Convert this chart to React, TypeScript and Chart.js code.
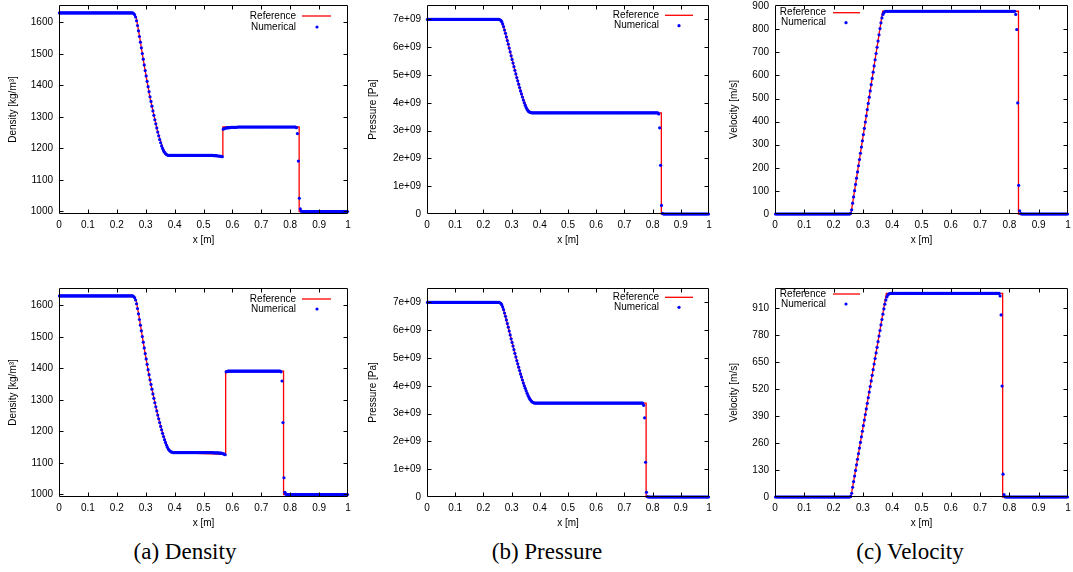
import React, { useEffect, useRef } from 'react';
import { Chart, registerables } from 'chart.js';

Chart.register(...registerables);

// ---------- ticks ----------
const xTicks = [0, 0.1, 0.2, 0.3, 0.4, 0.5, 0.6, 0.7, 0.8, 0.9, 1];
const densityTicks = [1000, 1100, 1200, 1300, 1400, 1500, 1600];
const pressureTicksGPa = [0, 1, 2, 3, 4, 5, 6, 7];
const velocityTopTicks = [0, 100, 200, 300, 400, 500, 600, 700, 800, 900];
const velocityBottomTicks = [0, 130, 260, 390, 520, 650, 780, 910];

// ---------- numerical solution: 300 cells on [0, 1] ----------
const cellCount = 300;
const cellCentres = Array.from({ length: cellCount }, (_, i) => (i + 0.5) / cellCount);

const densityTopNum = [
  1630, 1630, 1630, 1630, 1630, 1630, 1630, 1630, 1630, 1630, 1630, 1630, 1630, 1630, 1630, 1630, 1630, 1630, 1630, 1630,
  1630, 1630, 1630, 1630, 1630, 1630, 1630, 1630, 1630, 1630, 1630, 1630, 1630, 1630, 1630, 1630, 1630, 1630, 1630, 1630,
  1630, 1630, 1630, 1630, 1630, 1630, 1630, 1630, 1630, 1630, 1630, 1630, 1630, 1630, 1630, 1630, 1630, 1630, 1630, 1630,
  1630, 1630, 1630, 1630, 1630, 1630, 1630, 1630, 1630, 1630, 1630, 1630, 1630, 1630, 1630, 1630, 1630, 1628, 1624, 1617,
  1605, 1590, 1573, 1555, 1537, 1519, 1501, 1483, 1465, 1447, 1430, 1413, 1396, 1380, 1364, 1349, 1334, 1319, 1305, 1291,
  1278, 1265, 1252, 1240, 1228, 1218, 1208, 1200, 1193, 1188, 1184, 1181, 1179, 1178, 1178, 1178, 1178, 1178, 1178, 1178,
  1178, 1178, 1178, 1178, 1178, 1178, 1178, 1178, 1178, 1178, 1178, 1178, 1178, 1178, 1178, 1178, 1178, 1178, 1178, 1178,
  1178, 1178, 1178, 1178, 1178, 1178, 1178, 1178, 1178, 1178, 1178, 1178, 1178, 1178, 1178, 1178, 1178, 1178, 1178, 1178,
  1177, 1177, 1177, 1177, 1176, 1176, 1176, 1175, 1175, 1174, 1261, 1263, 1264, 1265, 1265, 1266, 1266, 1266, 1267, 1267,
  1267, 1267, 1267, 1267, 1267, 1268, 1268, 1268, 1268, 1268, 1268, 1268, 1268, 1268, 1268, 1268, 1268, 1268, 1268, 1268,
  1268, 1268, 1268, 1268, 1268, 1268, 1268, 1268, 1268, 1268, 1268, 1268, 1268, 1268, 1268, 1268, 1268, 1268, 1268, 1268,
  1268, 1268, 1268, 1268, 1268, 1268, 1268, 1268, 1268, 1268, 1268, 1268, 1268, 1268, 1268, 1268, 1268, 1268, 1268, 1268,
  1268, 1268, 1268, 1268, 1268, 1268, 1266, 1247, 1160, 1042, 1008, 1001, 1000, 1000, 1000, 1000, 1000, 1000, 1000, 1000,
  1000, 1000, 1000, 1000, 1000, 1000, 1000, 1000, 1000, 1000, 1000, 1000, 1000, 1000, 1000, 1000, 1000, 1000, 1000, 1000,
  1000, 1000, 1000, 1000, 1000, 1000, 1000, 1000, 1000, 1000, 1000, 1000, 1000, 1000, 1000, 1000, 1000, 1000, 1000, 1000,
];

// pressure in units of 1e9 Pa
const pressureTopNum = [
  7, 7, 7, 7, 7, 7, 7, 7, 7, 7, 7, 7, 7, 7, 7, 7, 7, 7, 7, 7,
  7, 7, 7, 7, 7, 7, 7, 7, 7, 7, 7, 7, 7, 7, 7, 7, 7, 7, 7, 7,
  7, 7, 7, 7, 7, 7, 7, 7, 7, 7, 7, 7, 7, 7, 7, 7, 7, 7, 7, 7,
  7, 7, 7, 7, 7, 7, 7, 7, 7, 7, 7, 7, 7, 7, 7, 7, 7, 6.99, 6.97, 6.92,
  6.84, 6.74, 6.62, 6.50, 6.37, 6.24, 6.11, 5.97, 5.83, 5.69, 5.56, 5.43, 5.30, 5.17, 5.04, 4.91, 4.79, 4.67, 4.55, 4.43,
  4.32, 4.21, 4.10, 4.00, 3.91, 3.83, 3.76, 3.71, 3.68, 3.66, 3.65, 3.64, 3.64, 3.64, 3.64, 3.64, 3.64, 3.64, 3.64, 3.64,
  3.64, 3.64, 3.64, 3.64, 3.64, 3.64, 3.64, 3.64, 3.64, 3.64, 3.64, 3.64, 3.64, 3.64, 3.64, 3.64, 3.64, 3.64, 3.64, 3.64,
  3.64, 3.64, 3.64, 3.64, 3.64, 3.64, 3.64, 3.64, 3.64, 3.64, 3.64, 3.64, 3.64, 3.64, 3.64, 3.64, 3.64, 3.64, 3.64, 3.64,
  3.64, 3.64, 3.64, 3.64, 3.64, 3.64, 3.64, 3.64, 3.64, 3.64, 3.64, 3.64, 3.64, 3.64, 3.64, 3.64, 3.64, 3.64, 3.64, 3.64,
  3.64, 3.64, 3.64, 3.64, 3.64, 3.64, 3.64, 3.64, 3.64, 3.64, 3.64, 3.64, 3.64, 3.64, 3.64, 3.64, 3.64, 3.64, 3.64, 3.64,
  3.64, 3.64, 3.64, 3.64, 3.64, 3.64, 3.64, 3.64, 3.64, 3.64, 3.64, 3.64, 3.64, 3.64, 3.64, 3.64, 3.64, 3.64, 3.64, 3.64,
  3.64, 3.64, 3.64, 3.64, 3.64, 3.64, 3.64, 3.64, 3.64, 3.64, 3.64, 3.64, 3.64, 3.64, 3.64, 3.64, 3.64, 3.64, 3.64, 3.64,
  3.64, 3.64, 3.64, 3.64, 3.64, 3.64, 3.60, 3.10, 1.75, 0.31, 0.02, 0, 0, 0, 0, 0, 0, 0, 0, 0,
  0, 0, 0, 0, 0, 0, 0, 0, 0, 0, 0, 0, 0, 0, 0, 0, 0, 0, 0, 0,
  0, 0, 0, 0, 0, 0, 0, 0, 0, 0, 0, 0, 0, 0, 0, 0, 0, 0, 0, 0,
];

const velocityTopNum = [
  0, 0, 0, 0, 0, 0, 0, 0, 0, 0, 0, 0, 0, 0, 0, 0, 0, 0, 0, 0,
  0, 0, 0, 0, 0, 0, 0, 0, 0, 0, 0, 0, 0, 0, 0, 0, 0, 0, 0, 0,
  0, 0, 0, 0, 0, 0, 0, 0, 0, 0, 0, 0, 0, 0, 0, 0, 0, 0, 0, 0,
  0, 0, 0, 0, 0, 0, 0, 0, 0, 0, 0, 0, 0, 0, 0, 0, 0, 3, 18, 47,
  74, 101, 128, 155, 182, 209, 236, 263, 290, 317, 344, 371, 398, 425, 452, 479, 506, 533, 560, 587,
  614, 641, 668, 695, 722, 749, 776, 803, 828, 849, 864, 872, 876, 878, 878, 878, 878, 878, 878, 878,
  878, 878, 878, 878, 878, 878, 878, 878, 878, 878, 878, 878, 878, 878, 878, 878, 878, 878, 878, 878,
  878, 878, 878, 878, 878, 878, 878, 878, 878, 878, 878, 878, 878, 878, 878, 878, 878, 878, 878, 878,
  878, 878, 878, 878, 878, 878, 878, 878, 878, 878, 878, 878, 878, 878, 878, 878, 878, 878, 878, 878,
  878, 878, 878, 878, 878, 878, 878, 878, 878, 878, 878, 878, 878, 878, 878, 878, 878, 878, 878, 878,
  878, 878, 878, 878, 878, 878, 878, 878, 878, 878, 878, 878, 878, 878, 878, 878, 878, 878, 878, 878,
  878, 878, 878, 878, 878, 878, 878, 878, 878, 878, 878, 878, 878, 878, 878, 878, 878, 878, 878, 878,
  878, 878, 878, 878, 878, 878, 864, 799, 481, 124, 14, 2, 0, 0, 0, 0, 0, 0, 0, 0,
  0, 0, 0, 0, 0, 0, 0, 0, 0, 0, 0, 0, 0, 0, 0, 0, 0, 0, 0, 0,
  0, 0, 0, 0, 0, 0, 0, 0, 0, 0, 0, 0, 0, 0, 0, 0, 0, 0, 0, 0,
];

const densityBottomNum = [
  1630, 1630, 1630, 1630, 1630, 1630, 1630, 1630, 1630, 1630, 1630, 1630, 1630, 1630, 1630, 1630, 1630, 1630, 1630, 1630,
  1630, 1630, 1630, 1630, 1630, 1630, 1630, 1630, 1630, 1630, 1630, 1630, 1630, 1630, 1630, 1630, 1630, 1630, 1630, 1630,
  1630, 1630, 1630, 1630, 1630, 1630, 1630, 1630, 1630, 1630, 1630, 1630, 1630, 1630, 1630, 1630, 1630, 1630, 1630, 1630,
  1630, 1630, 1630, 1630, 1630, 1630, 1630, 1630, 1630, 1630, 1630, 1630, 1630, 1630, 1630, 1630, 1630, 1628, 1624, 1617,
  1605, 1590, 1573, 1555, 1537, 1519, 1501, 1483, 1465, 1447, 1430, 1413, 1396, 1380, 1364, 1349, 1334, 1319, 1305, 1291,
  1278, 1265, 1252, 1240, 1228, 1216, 1205, 1194, 1184, 1174, 1165, 1157, 1150, 1144, 1140, 1137, 1135, 1134, 1133, 1133,
  1133, 1133, 1133, 1133, 1133, 1133, 1133, 1133, 1133, 1133, 1133, 1133, 1133, 1133, 1133, 1133, 1133, 1133, 1133, 1133,
  1133, 1133, 1133, 1133, 1133, 1133, 1133, 1133, 1133, 1133, 1133, 1133, 1133, 1133, 1133, 1133, 1133, 1133, 1133, 1133,
  1132, 1132, 1132, 1132, 1132, 1132, 1131, 1131, 1131, 1130, 1129, 1128, 1126, 1389, 1390, 1391, 1391, 1391, 1391, 1391,
  1391, 1391, 1391, 1391, 1391, 1391, 1391, 1391, 1391, 1391, 1391, 1391, 1391, 1391, 1391, 1391, 1391, 1391, 1391, 1391,
  1391, 1391, 1391, 1391, 1391, 1391, 1391, 1391, 1391, 1391, 1391, 1391, 1391, 1391, 1391, 1391, 1391, 1391, 1391, 1391,
  1391, 1391, 1391, 1391, 1391, 1391, 1391, 1391, 1391, 1391, 1389, 1360, 1228, 1053, 1007, 1001, 1000, 1000, 1000, 1000,
  1000, 1000, 1000, 1000, 1000, 1000, 1000, 1000, 1000, 1000, 1000, 1000, 1000, 1000, 1000, 1000, 1000, 1000, 1000, 1000,
  1000, 1000, 1000, 1000, 1000, 1000, 1000, 1000, 1000, 1000, 1000, 1000, 1000, 1000, 1000, 1000, 1000, 1000, 1000, 1000,
  1000, 1000, 1000, 1000, 1000, 1000, 1000, 1000, 1000, 1000, 1000, 1000, 1000, 1000, 1000, 1000, 1000, 1000, 1000, 1000,
];

const pressureBottomNum = [
  7, 7, 7, 7, 7, 7, 7, 7, 7, 7, 7, 7, 7, 7, 7, 7, 7, 7, 7, 7,
  7, 7, 7, 7, 7, 7, 7, 7, 7, 7, 7, 7, 7, 7, 7, 7, 7, 7, 7, 7,
  7, 7, 7, 7, 7, 7, 7, 7, 7, 7, 7, 7, 7, 7, 7, 7, 7, 7, 7, 7,
  7, 7, 7, 7, 7, 7, 7, 7, 7, 7, 7, 7, 7, 7, 7, 7, 7, 6.99, 6.97, 6.92,
  6.84, 6.74, 6.62, 6.50, 6.37, 6.24, 6.11, 5.97, 5.83, 5.69, 5.56, 5.43, 5.30, 5.17, 5.04, 4.91, 4.79, 4.67, 4.55, 4.43,
  4.32, 4.21, 4.10, 4.00, 3.91, 3.82, 3.73, 3.65, 3.58, 3.52, 3.47, 3.43, 3.41, 3.39, 3.38, 3.38, 3.38, 3.38, 3.38, 3.38,
  3.38, 3.38, 3.38, 3.38, 3.38, 3.38, 3.38, 3.38, 3.38, 3.38, 3.38, 3.38, 3.38, 3.38, 3.38, 3.38, 3.38, 3.38, 3.38, 3.38,
  3.38, 3.38, 3.38, 3.38, 3.38, 3.38, 3.38, 3.38, 3.38, 3.38, 3.38, 3.38, 3.38, 3.38, 3.38, 3.38, 3.38, 3.38, 3.38, 3.38,
  3.38, 3.38, 3.38, 3.38, 3.38, 3.38, 3.38, 3.38, 3.38, 3.38, 3.38, 3.38, 3.38, 3.38, 3.38, 3.38, 3.38, 3.38, 3.38, 3.38,
  3.38, 3.38, 3.38, 3.38, 3.38, 3.38, 3.38, 3.38, 3.38, 3.38, 3.38, 3.38, 3.38, 3.38, 3.38, 3.38, 3.38, 3.38, 3.38, 3.38,
  3.38, 3.38, 3.38, 3.38, 3.38, 3.38, 3.38, 3.38, 3.38, 3.38, 3.38, 3.38, 3.38, 3.38, 3.38, 3.38, 3.38, 3.38, 3.38, 3.38,
  3.38, 3.38, 3.38, 3.38, 3.38, 3.38, 3.38, 3.38, 3.38, 3.38, 3.30, 2.85, 1.25, 0.17, 0.01, 0, 0, 0, 0, 0,
  0, 0, 0, 0, 0, 0, 0, 0, 0, 0, 0, 0, 0, 0, 0, 0, 0, 0, 0, 0,
  0, 0, 0, 0, 0, 0, 0, 0, 0, 0, 0, 0, 0, 0, 0, 0, 0, 0, 0, 0,
  0, 0, 0, 0, 0, 0, 0, 0, 0, 0, 0, 0, 0, 0, 0, 0, 0, 0, 0, 0,
];

const velocityBottomNum = [
  0, 0, 0, 0, 0, 0, 0, 0, 0, 0, 0, 0, 0, 0, 0, 0, 0, 0, 0, 0,
  0, 0, 0, 0, 0, 0, 0, 0, 0, 0, 0, 0, 0, 0, 0, 0, 0, 0, 0, 0,
  0, 0, 0, 0, 0, 0, 0, 0, 0, 0, 0, 0, 0, 0, 0, 0, 0, 0, 0, 0,
  0, 0, 0, 0, 0, 0, 0, 0, 0, 0, 0, 0, 0, 0, 0, 0, 0, 3, 18, 47,
  74, 101, 128, 155, 182, 209, 236, 263, 290, 317, 344, 371, 398, 425, 452, 479, 506, 533, 560, 587,
  614, 641, 668, 695, 722, 749, 776, 803, 830, 856, 882, 907, 930, 950, 965, 974, 979, 981, 982, 982,
  982, 982, 982, 982, 982, 982, 982, 982, 982, 982, 982, 982, 982, 982, 982, 982, 982, 982, 982, 982,
  982, 982, 982, 982, 982, 982, 982, 982, 982, 982, 982, 982, 982, 982, 982, 982, 982, 982, 982, 982,
  982, 982, 982, 982, 982, 982, 982, 982, 982, 982, 982, 982, 982, 982, 982, 982, 982, 982, 982, 982,
  982, 982, 982, 982, 982, 982, 982, 982, 982, 982, 982, 982, 982, 982, 982, 982, 982, 982, 982, 982,
  982, 982, 982, 982, 982, 982, 982, 982, 982, 982, 982, 982, 982, 982, 982, 982, 982, 982, 982, 982,
  982, 982, 982, 982, 982, 982, 982, 982, 982, 982, 970, 878, 535, 110, 11, 1, 0, 0, 0, 0,
  0, 0, 0, 0, 0, 0, 0, 0, 0, 0, 0, 0, 0, 0, 0, 0, 0, 0, 0, 0,
  0, 0, 0, 0, 0, 0, 0, 0, 0, 0, 0, 0, 0, 0, 0, 0, 0, 0, 0, 0,
  0, 0, 0, 0, 0, 0, 0, 0, 0, 0, 0, 0, 0, 0, 0, 0, 0, 0, 0, 0,
];

// ---------- reference (exact) solution breakpoints ----------
const refDensityTopX = [0, 0.255, 0.262, 0.268, 0.276, 0.2955, 0.315, 0.3417, 0.36, 0.372, 0.567, 0.567, 0.831, 0.831, 1];
const refDensityTopY = [1630, 1630, 1626, 1612, 1570, 1460, 1360, 1252, 1200, 1178, 1176, 1268, 1268, 1000, 1000];
const refPressureTopX = [0, 0.257, 0.265, 0.275, 0.295, 0.315, 0.335, 0.355, 0.37, 0.831, 0.831, 1];
const refPressureTopY = [7, 7, 6.9, 6.62, 5.83, 5.04, 4.32, 3.8, 3.64, 3.64, 0, 0];
const refVelocityTopX = [0, 0.259, 0.3675, 0.831, 0.831, 1];
const refVelocityTopY = [0, 0, 878, 878, 0, 0];
const refDensityBottomX = [0, 0.255, 0.262, 0.268, 0.276, 0.2955, 0.315, 0.3417, 0.36, 0.38, 0.39, 0.5767, 0.5767, 0.777, 0.777, 1];
const refDensityBottomY = [1630, 1630, 1626, 1612, 1570, 1460, 1360, 1252, 1190, 1140, 1133, 1127, 1391, 1391, 1000, 1000];
const refPressureBottomX = [0, 0.257, 0.265, 0.275, 0.295, 0.315, 0.335, 0.355, 0.372, 0.385, 0.777, 0.777, 1];
const refPressureBottomY = [7, 7, 6.9, 6.62, 5.83, 5.04, 4.32, 3.75, 3.45, 3.38, 3.38, 0, 0];
const refVelocityBottomX = [0, 0.259, 0.38, 0.777, 0.777, 1];
const refVelocityBottomY = [0, 0, 982, 982, 0, 0];

// ---------- drawing helpers ----------
const FONT_FAMILY = '"Liberation Sans", Arial, Helvetica, sans-serif';

const gnuplotFrame = {
  id: 'gnuplotFrame',
  afterDatasetsDraw(chart: any, _args: any, opts: any) {
    const { ctx, chartArea: a, scales } = chart;
    const L = Math.round(a.left) + 0.5;
    const R = Math.round(a.right) - 0.5;
    const T = Math.round(a.top) + 0.5;
    const B = Math.round(a.bottom) - 0.5;
    const tl = 4;
    ctx.save();
    ctx.strokeStyle = '#000';
    ctx.lineWidth = 1;
    ctx.beginPath();
    ctx.rect(L, T, R - L, B - T);
    scales.x.ticks.forEach((t: any) => {
      const p = Math.round(scales.x.getPixelForValue(t.value)) + 0.5;
      if (p <= L + 1 || p >= R - 1) return;
      ctx.moveTo(p, B); ctx.lineTo(p, B - tl);
      ctx.moveTo(p, T); ctx.lineTo(p, T + tl);
    });
    scales.y.ticks.forEach((t: any) => {
      const p = Math.round(scales.y.getPixelForValue(t.value)) + 0.5;
      if (p <= T + 1 || p >= B - 1) return;
      ctx.moveTo(L, p); ctx.lineTo(L + tl, p);
      ctx.moveTo(R, p); ctx.lineTo(R - tl, p);
    });
    ctx.stroke();

    // gnuplot-style key
    const lg = opts.legend;
    const ds = chart.data.datasets;
    const ax = (v: number) => (lg.side === 'right' ? a.right - v : a.left + v);
    const y1 = a.top + lg.row1;
    const y2 = a.top + lg.row2;
    ctx.font = `10px ${FONT_FAMILY}`;
    ctx.fillStyle = '#000';
    ctx.textAlign = 'right';
    ctx.textBaseline = 'middle';
    ctx.fillText(ds[1].label, ax(lg.text), y1);
    ctx.fillText(ds[0].label, ax(lg.text), y2);
    ctx.strokeStyle = ds[1].borderColor;
    ctx.lineWidth = ds[1].borderWidth;
    ctx.beginPath();
    ctx.moveTo(ax(lg.lineFrom), y1);
    ctx.lineTo(ax(lg.lineTo), y1);
    ctx.stroke();
    ctx.fillStyle = ds[0].backgroundColor;
    ctx.beginPath();
    ctx.arc(ax(lg.dot), y2, ds[0].pointRadius, 0, Math.PI * 2);
    ctx.fill();
    ctx.restore();
  },
};

type PanelProps = {
  left: number;
  top: number;
  width: number;
  yAxisWidth: number;
  padRight: number;
  yMin: number;
  yMax: number;
  yTicks: number[];
  yFormat: (v: number) => string;
  yTitle: string;
  yTitleOffset: number;
  numerical: number[];
  refX: number[];
  refY: number[];
  legend: any;
};

const CANVAS_H = 250;
const PLOT_TOP = 5;
const X_AXIS_H = 36;

const zeroScalePadding = (s: any) => {
  s.paddingTop = 0;
  s.paddingBottom = 0;
  s.paddingLeft = 0;
  s.paddingRight = 0;
};

function Panel(p: PanelProps) {
  const ref = useRef<HTMLCanvasElement>(null);
  useEffect(() => {
    const font = { family: FONT_FAMILY, size: 10 };
    const chart = new Chart(ref.current as HTMLCanvasElement, {
      type: 'scatter',
      data: {
        datasets: [
          {
            label: 'Numerical',
            data: p.numerical.map((y, i) => ({ x: cellCentres[i], y })),
            pointRadius: 1.6,
            pointHoverRadius: 1.6,
            backgroundColor: 'rgb(0,0,255)',
            borderColor: 'rgb(0,0,255)',
            pointBorderWidth: 0,
            showLine: false,
            clip: false,
          } as any,
          {
            label: 'Reference',
            data: p.refX.map((x, i) => ({ x, y: p.refY[i] })),
            showLine: true,
            borderColor: 'rgb(255,0,0)',
            backgroundColor: 'rgb(255,0,0)',
            borderWidth: 1.3,
            pointRadius: 0,
            pointHoverRadius: 0,
            fill: false,
            tension: 0,
            clip: false,
          } as any,
        ],
      },
      options: {
        responsive: false,
        maintainAspectRatio: false,
        animation: false,
        events: [],
        layout: { autoPadding: false, padding: { top: PLOT_TOP, right: p.padRight, left: 0, bottom: 0 } },
        plugins: {
          legend: { display: false },
          tooltip: { enabled: false },
          gnuplotFrame: { legend: p.legend },
        } as any,
        scales: {
          x: {
            type: 'linear',
            min: 0,
            max: 1,
            afterBuildTicks: (s: any) => {
              s.ticks = xTicks.map((v) => ({ value: v }));
            },
            afterFit: (s: any) => {
              s.height = X_AXIS_H;
              zeroScalePadding(s);
            },
            grid: { display: false, drawTicks: false },
            border: { display: false },
            ticks: {
              padding: 5,
              font,
              color: '#000',
              maxRotation: 0,
              autoSkip: false,
              callback: (v: any) => String(v),
            },
            title: {
              display: true,
              text: 'x [m]',
              font,
              color: '#000',
              padding: { top: 0, bottom: 4 },
            },
          },
          y: {
            type: 'linear',
            min: p.yMin,
            max: p.yMax,
            afterBuildTicks: (s: any) => {
              s.ticks = p.yTicks.map((v) => ({ value: v }));
            },
            afterFit: (s: any) => {
              s.width = p.yAxisWidth;
              zeroScalePadding(s);
            },
            grid: { display: false, drawTicks: false },
            border: { display: false },
            ticks: {
              padding: 6,
              font,
              color: '#000',
              autoSkip: false,
              callback: (v: any) => p.yFormat(Number(v)),
            },
            title: {
              display: true,
              text: p.yTitle,
              font,
              color: '#000',
              padding: { top: p.yTitleOffset - 6, bottom: 0 },
            },
          },
        },
      } as any,
      plugins: [gnuplotFrame],
    });
    return () => chart.destroy();
  }, []);
  return (
    <canvas
      ref={ref}
      width={p.width}
      height={CANVAS_H}
      style={{ position: 'absolute', left: p.left, top: p.top, width: p.width, height: CANVAS_H }}
    />
  );
}

const fmtPlain = (v: number) => String(v);
const fmtPressure = (v: number) => (v === 0 ? '0' : `${v}e+09`);

const legendRightA = { side: 'right', text: 52, lineFrom: 46, lineTo: 17, dot: 31, row1: 11, row2: 22 };
const legendRightB = { side: 'right', text: 50, lineFrom: 44, lineTo: 16, dot: 30, row1: 10.3, row2: 20.7 };
const legendLeftC = { side: 'left', text: 51, lineFrom: 58, lineTo: 85, dot: 71, row1: 7.7, row2: 17.7 };

const panels: (PanelProps & { key: string })[] = [
  {
    key: 'dTop', left: 0, top: 0, width: 356, yAxisWidth: 59, padRight: 8,
    yMin: 992, yMax: 1655, yTicks: densityTicks, yFormat: fmtPlain, yTitle: 'Density [kg/m³]', yTitleOffset: 13,
    numerical: densityTopNum, refX: refDensityTopX, refY: refDensityTopY, legend: legendRightA,
  },
  {
    key: 'pTop', left: 360, top: 0, width: 356, yAxisWidth: 67, padRight: 7,
    yMin: 0, yMax: 7.52, yTicks: pressureTicksGPa, yFormat: fmtPressure, yTitle: 'Pressure [Pa]', yTitleOffset: 13,
    numerical: pressureTopNum, refX: refPressureTopX, refY: refPressureTopY, legend: legendRightB,
  },
  {
    key: 'vTop', left: 720, top: 0, width: 353, yAxisWidth: 55, padRight: 5,
    yMin: 0, yMax: 905, yTicks: velocityTopTicks, yFormat: fmtPlain, yTitle: 'Velocity [m/s]', yTitleOffset: 14.7,
    numerical: velocityTopNum, refX: refVelocityTopX, refY: refVelocityTopY, legend: legendLeftC,
  },
  {
    key: 'dBot', left: 0, top: 283, width: 356, yAxisWidth: 59, padRight: 8,
    yMin: 992, yMax: 1655, yTicks: densityTicks, yFormat: fmtPlain, yTitle: 'Density [kg/m³]', yTitleOffset: 13,
    numerical: densityBottomNum, refX: refDensityBottomX, refY: refDensityBottomY,
    legend: { ...legendRightA, row1: 11, row2: 21 },
  },
  {
    key: 'pBot', left: 360, top: 283, width: 356, yAxisWidth: 67, padRight: 7,
    yMin: 0, yMax: 7.52, yTicks: pressureTicksGPa, yFormat: fmtPressure, yTitle: 'Pressure [Pa]', yTitleOffset: 13,
    numerical: pressureBottomNum, refX: refPressureBottomX, refY: refPressureBottomY,
    legend: { ...legendRightB, row1: 9.3, row2: 19.3 },
  },
  {
    key: 'vBot', left: 720, top: 283, width: 353, yAxisWidth: 55, padRight: 5,
    yMin: 0, yMax: 1008, yTicks: velocityBottomTicks, yFormat: fmtPlain, yTitle: 'Velocity [m/s]', yTitleOffset: 14.7,
    numerical: velocityBottomNum, refX: refVelocityBottomX, refY: refVelocityBottomY,
    legend: { ...legendLeftC, row1: 6, row2: 16 },
  },
];

const captions = [
  { text: '(a) Density', centre: 185 },
  { text: '(b) Pressure', centre: 547 },
  { text: '(c) Velocity', centre: 910 },
];

export default function App() {
  return (
    <div
      style={{
        position: 'absolute',
        left: 0,
        top: 0,
        width: 1073,
        height: 572,
        background: '#fff',
        overflow: 'hidden',
      }}
    >
      {panels.map(({ key, ...p }) => (
        <Panel key={key} {...p} />
      ))}
      {captions.map((c) => (
        <div
          key={c.text}
          style={{
            position: 'absolute',
            left: c.centre - 120,
            width: 240,
            top: 538,
            height: 28,
            lineHeight: '28px',
            textAlign: 'center',
            fontFamily: '"Liberation Serif", "Times New Roman", serif',
            fontSize: 23,
            color: '#000',
          }}
        >
          {c.text}
        </div>
      ))}
    </div>
  );
}
